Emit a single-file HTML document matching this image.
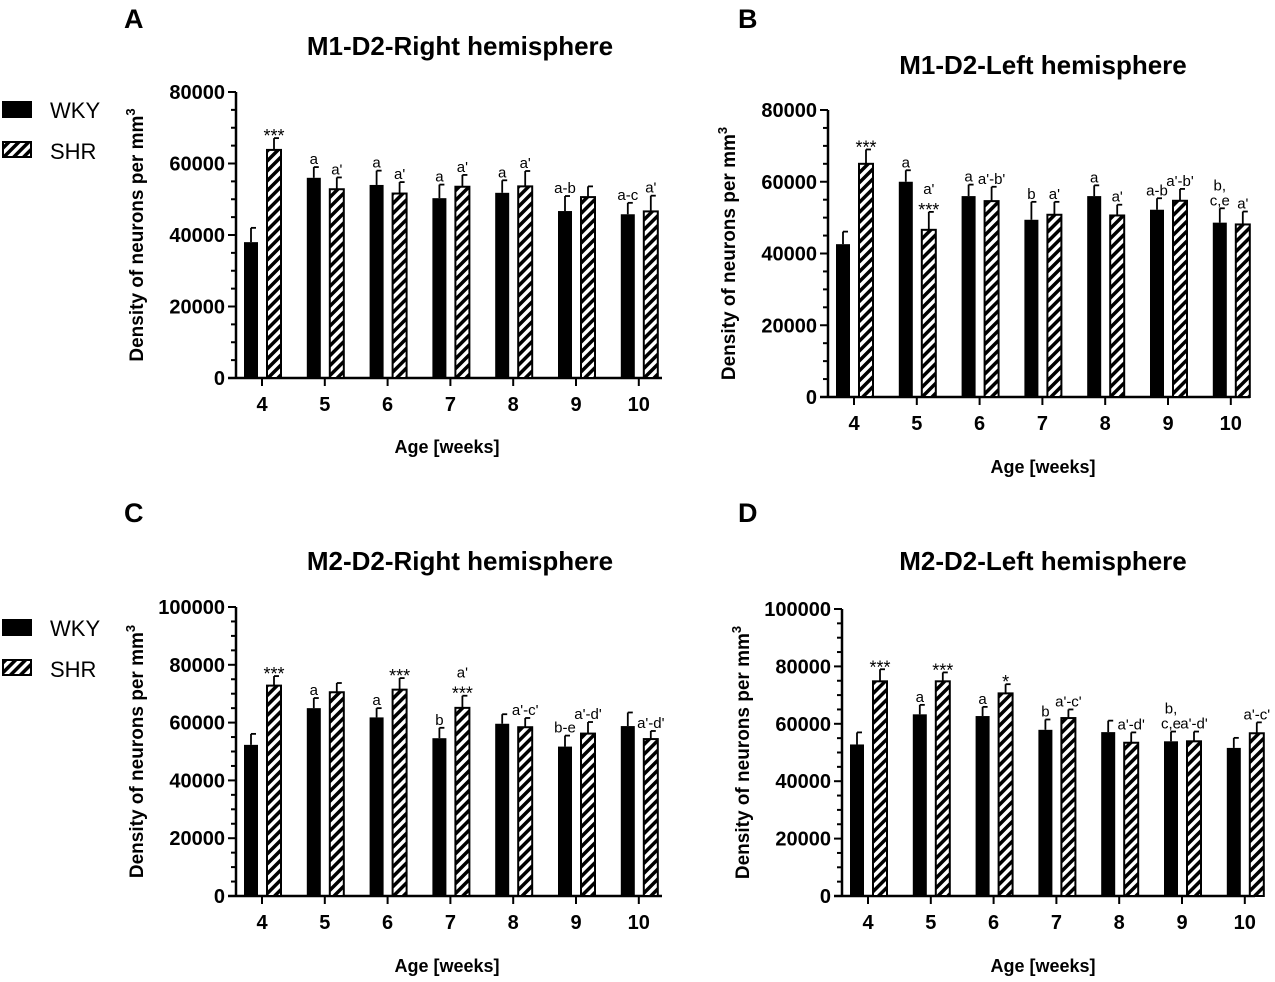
<!DOCTYPE html>
<html><head><meta charset="utf-8"><style>
html,body{margin:0;padding:0;background:#fff;}
svg text{font-family:"Liberation Sans",Arial,sans-serif;}
</style></head><body>
<svg id="chart" width="1275" height="977" viewBox="0 0 1275 977" xmlns="http://www.w3.org/2000/svg">
<defs>
<pattern id="hatch" patternUnits="userSpaceOnUse" width="7" height="7" patternTransform="rotate(45)">
<rect width="7" height="7" fill="#fff"/><rect width="3.5" height="7" fill="#000"/>
</pattern>
</defs>
</svg>
<script>
const categories = ['4','5','6','7','8','9','10'];
const aWKY = [38000,56000,54000,50300,51800,46700,45800];
const aWKYErr = [4000,3000,4000,3800,3500,4200,3200];
const aSHR = [63800,52800,51600,53500,53600,50600,46600];
const aSHRErr = [3300,3300,3200,3300,4300,3000,4400];
const aWKYLab = ['','a','a','a','a','a-b','a-c'];
const aSHRLab = ['***',"a'","a'","a'","a'",'',"a'"];
const bWKY = [42600,60000,56000,49400,56000,52200,48600];
const bWKYErr = [3500,3200,3200,5000,3000,3200,4000];
const bSHR = [65000,46600,54600,50800,50600,54700,48100];
const bSHRErr = [4000,5000,4000,3600,3000,3300,3600];
const bWKYLab = ['','a','a','b','a','a-b','b,|c,e'];
const bSHRLab = ['***',"a'|***","a'-b'","a'","a'","a'-b'","a'"];
const cWKY = [52300,65000,61800,54600,59600,51700,58800];
const cWKYErr = [3800,3500,3200,3600,3300,3800,4700];
const cSHR = [72800,70500,71400,65100,58400,56200,54300];
const cSHRErr = [3300,3200,4000,4200,3200,4000,2800];
const cWKYLab = ['','a','a','b','','b-e',''];
const cSHRLab = ['***','','***',"a'|***","a'-c'","a'-d'","a'-d'"];
const dWKY = [52800,63300,62700,57900,57100,53900,51600];
const dWKYErr = [4200,3300,3200,3600,4000,3400,3500];
const dSHR = [74800,74800,70600,62000,53400,53900,56700];
const dSHRErr = [4200,3100,3200,3000,3600,3400,3800];
const dWKYLab = ['','a','a','b','','b,|c,e',''];
const dSHRLab = ['***','***','*',"a'-c'","a'-d'","a'-d'","a'-c'"];
const abTicks = [0,20000,40000,60000,80000];
const cdTicks = [0,20000,40000,60000,80000,100000];

const NS='http://www.w3.org/2000/svg';
const svg=document.getElementById('chart');
function mk(tag,attrs,parent){const e=document.createElementNS(NS,tag);for(const k in attrs)e.setAttribute(k,attrs[k]);(parent||svg).appendChild(e);return e;}
function txt(s,x,y,size,weight,anchor,parent){const t=mk('text',{x:x,y:y,'font-size':size,'font-weight':weight,'text-anchor':anchor||'middle',fill:'#000'},parent);t.textContent=s;return t;}

const panels=[
 {id:'a',letter:'A',lx:124,ly:28,title:'M1-D2-Right hemisphere',tx:460,ty:55,ax:236,t4:262,y0:378,ytop:92,ymax:80000,ticks:abTicks,xend:662,xl:447,xly:453,w:aWKY,we:aWKYErr,s:aSHR,se:aSHRErr,wl:aWKYLab,sl:aSHRLab},
 {id:'b',letter:'B',lx:738,ly:28,title:'M1-D2-Left hemisphere',tx:1043,ty:74,ax:828,t4:854,y0:397,ytop:110,ymax:80000,ticks:abTicks,xend:1250,xl:1043,xly:473,w:bWKY,we:bWKYErr,s:bSHR,se:bSHRErr,wl:bWKYLab,sl:bSHRLab},
 {id:'c',letter:'C',lx:124,ly:522,title:'M2-D2-Right hemisphere',tx:460,ty:570,ax:236,t4:262,y0:896,ytop:607,ymax:100000,ticks:cdTicks,xend:662,xl:447,xly:972,w:cWKY,we:cWKYErr,s:cSHR,se:cSHRErr,wl:cWKYLab,sl:cSHRLab},
 {id:'d',letter:'D',lx:738,ly:522,title:'M2-D2-Left hemisphere',tx:1043,ty:570,ax:842,t4:868,y0:896,ytop:609,ymax:100000,ticks:cdTicks,xend:1255,xl:1043,xly:972,w:dWKY,we:dWKYErr,s:dSHR,se:dSHRErr,wl:dWKYLab,sl:dSHRLab}
];
const step=62.8, bw=14;

panels.forEach(p=>{
 const g=mk('g',{});
 
 
 const yS=v=>p.y0-(v/p.ymax)*(p.y0-p.ytop);
 const xS=i=>p.t4+i*step;
 const L=txt(p.letter,p.lx,p.ly,27,'bold','start',g);
  
 const T=txt(p.title,p.tx,p.ty,26,'bold','middle',g);
  
 const ya=mk('line',{x1:p.ax,y1:p.ytop,x2:p.ax,y2:p.y0,stroke:'#000','stroke-width':2.5},g);
  
 for(let v=0;v<=p.ymax;v+=5000){const maj=p.ticks.indexOf(v)>=0;mk('line',{x1:p.ax-(maj?8:5),y1:yS(v),x2:p.ax,y2:yS(v),stroke:'#000','stroke-width':2},g);}
 p.ticks.forEach(v=>{const t=txt(String(v),p.ax-11,yS(v)+7,20,'bold','end',g);});
 const yt=txt('Density of neurons per mm',0,0,19,'bold','middle',g);
 const sup=mk('tspan',{dy:-8,'font-size':13},yt);sup.textContent='3';
 const ymid=(p.y0+p.ytop)/2;
 yt.setAttribute('transform','translate('+(p.ax-93)+','+ymid+') rotate(-90)');
  
 const xa=mk('line',{x1:p.ax-8,y1:p.y0,x2:p.xend,y2:p.y0,stroke:'#000','stroke-width':2.5},g);
  
 categories.forEach((c,i)=>{
  mk('line',{x1:xS(i),y1:p.y0,x2:xS(i),y2:p.y0+8,stroke:'#000','stroke-width':2},g);
  const t=txt(c,xS(i),p.y0+33,20,'bold','middle',g);
 });
 const xt=txt('Age [weeks]',p.xl,p.xly,18,'bold','middle',g);
  
 categories.forEach((c,i)=>{
  [[p.w,p.we,p.wl,-11,'wky'],[p.s,p.se,p.sl,12,'shr']].forEach(([vals,errs,labs,off,ser])=>{
   const cx=xS(i)+off, top=yS(vals[i]), et=yS(vals[i]+errs[i]);
   mk('line',{x1:cx,y1:top,x2:cx,y2:et,stroke:'#000','stroke-width':1.8},g);
   mk('line',{x1:cx,y1:et,x2:cx+5,y2:et,stroke:'#000','stroke-width':1.8},g);
   const r=mk('rect',{x:cx-bw/2,y:top,width:bw,height:p.y0-top,fill:ser==='wky'?'#000':'url(#hatch)',stroke:'#000','stroke-width':ser==='wky'?0:2},g);
   
   
   const lab=labs[i];
   if(lab){
    const parts=lab.split('|');
    parts.forEach((s,k)=>{
     const star=s.indexOf('*')>=0;
     const t=txt(s,cx,et-3-(parts.length-1-k)*15+(star?7:0),star?18:15,'normal','middle',g);
     
     
    });
   }
  });
 });
});
[[98,'legend-top'],[616,'legend-bottom']].forEach(([y,n])=>{
 const g=mk('g',{});
 
 
 const r1=mk('rect',{x:2,y:y+3,width:30,height:17,fill:'#000'},g);
  
 const t1=txt('WKY',50,y+20,22,'normal','start',g);
  
 const r2=mk('rect',{x:3,y:y+44,width:28,height:15,fill:'url(#hatch)',stroke:'#000','stroke-width':2},g);
  
 const t2=txt('SHR',50,y+61,22,'normal','start',g);
  
});
</script>
</body></html>
